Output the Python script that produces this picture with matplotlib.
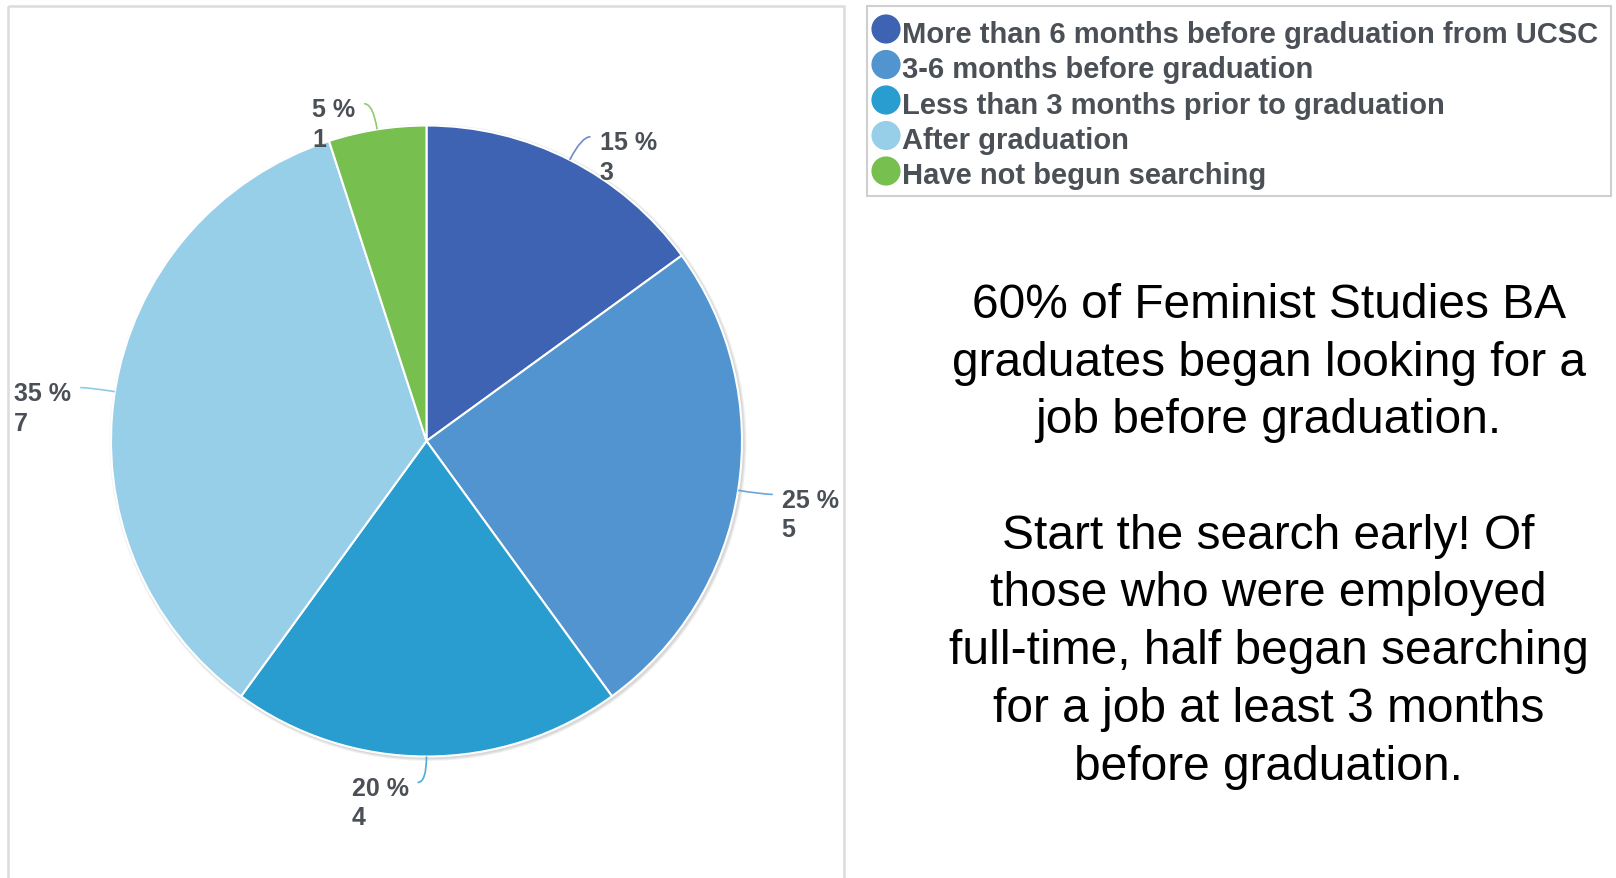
import numpy as np
import matplotlib
matplotlib.use("Agg")
import matplotlib.pyplot as plt
from matplotlib.patches import Rectangle, Circle, PathPatch
from matplotlib.path import Path

categories = [
    "More than 6 months before graduation from UCSC",
    "3-6 months before graduation",
    "Less than 3 months prior to graduation",
    "After graduation",
    "Have not begun searching",
]
counts = [3, 5, 4, 7, 1]
percents = [15, 25, 20, 35, 5]
colors = ["#3e63b3", "#5194cf", "#2a9dd0", "#97cfe9", "#77bf4f"]
line_colors = ["#6f8cc8", "#6aa6d9", "#4aaed8", "#8fcbe6", "#8fcc6e"]

note_lines = [
    "60% of Feminist Studies BA",
    "graduates began looking for a",
    "job before graduation.",
    "",
    "Start the search early! Of",
    "those who were employed",
    "full-time, half began searching",
    "for a job at least 3 months",
    "before graduation.",
]

W, H = 1616, 879
fig = plt.figure(figsize=(W / 100, H / 100), dpi=100)
ax = fig.add_axes([0, 0, 1, 1])

def Y(y):
    return H - y

cx, cy, R = 426.5, Y(442), 315.5
# soft shadow
for i, a in enumerate([0.10, 0.12, 0.15]):
    ax.add_patch(Circle((cx + 1.5, cy - 1.5), R + 3 - i, color="#888888", alpha=a, lw=0, zorder=1))

wedges, _ = ax.pie(counts, colors=colors, startangle=90, counterclock=False,
                   center=(cx, cy), radius=R,
                   wedgeprops=dict(edgecolor="white", linewidth=1.5), frame=True)
for w in wedges:
    w.set_zorder(2)
ax.set_xlim(0, W)
ax.set_ylim(0, H)
ax.set_aspect("equal")
ax.axis("off")

# left panel border
ax.add_patch(Rectangle((8, Y(7)), 836, -900, fill=False, ec="#dcdcdc", lw=1.8, zorder=0))

label_color = "#4b4f56"
total = sum(counts)
cum = 0
for i, (c, p) in enumerate(zip(counts, percents)):
    mid = 90 - 360 * (cum + c / 2) / total
    cum += c
    t = np.deg2rad(mid)
    ux, uy = np.cos(t), np.sin(t)
    x0, y0 = cx + R * ux, cy + R * uy
    xc, yc = cx + (R + 26) * ux, cy + (R + 26) * uy
    side = 1 if ux > 0.05 else -1
    x1, y1 = xc + 9 * side, yc
    path = Path([(x0, y0), (xc, yc), (x1, y1)], [Path.MOVETO, Path.CURVE3, Path.CURVE3])
    ax.add_patch(PathPatch(path, fill=False, ec=line_colors[i], lw=1.2, zorder=3))
    tx = x1 + 9 * side
    ha = "left" if side > 0 else "right"
    ybase = y1 - 12.5
    t0 = ax.text(tx, ybase, f"{p} %", ha=ha, va="baseline",
                 fontsize=18, fontweight="bold", color=label_color,
                 family="Liberation Sans", zorder=4)
    fig.canvas.draw()
    bb = t0.get_window_extent().transformed(ax.transData.inverted())
    ax.text(bb.x0, ybase - 29.5, f"{c}", ha="left", va="baseline",
            fontsize=18, fontweight="bold", color=label_color,
            family="Liberation Sans", zorder=4)

# legend
ax.add_patch(Rectangle((867, Y(197)), 744, 190, fill=False, ec="#cfcfcf", lw=1.5))
for i, (cat, col) in enumerate(zip(categories, colors)):
    yc = 30 + 35.5 * i
    ax.scatter([886], [Y(yc)], s=21 ** 2, color=col, edgecolors="none", zorder=3)
    ax.text(902, Y(yc + 12.5), cat, ha="left", va="baseline", fontsize=21, fontweight="bold",
            color=label_color, family="Liberation Sans")

# note text
for k, line in enumerate(note_lines):
    ax.text(1268.5, Y(301 + 57.7 * k + 17), line, ha="center", va="baseline", fontsize=34.5,
            color="black", family="Liberation Sans")

fig.savefig("out.png", dpi=100, facecolor="white")
